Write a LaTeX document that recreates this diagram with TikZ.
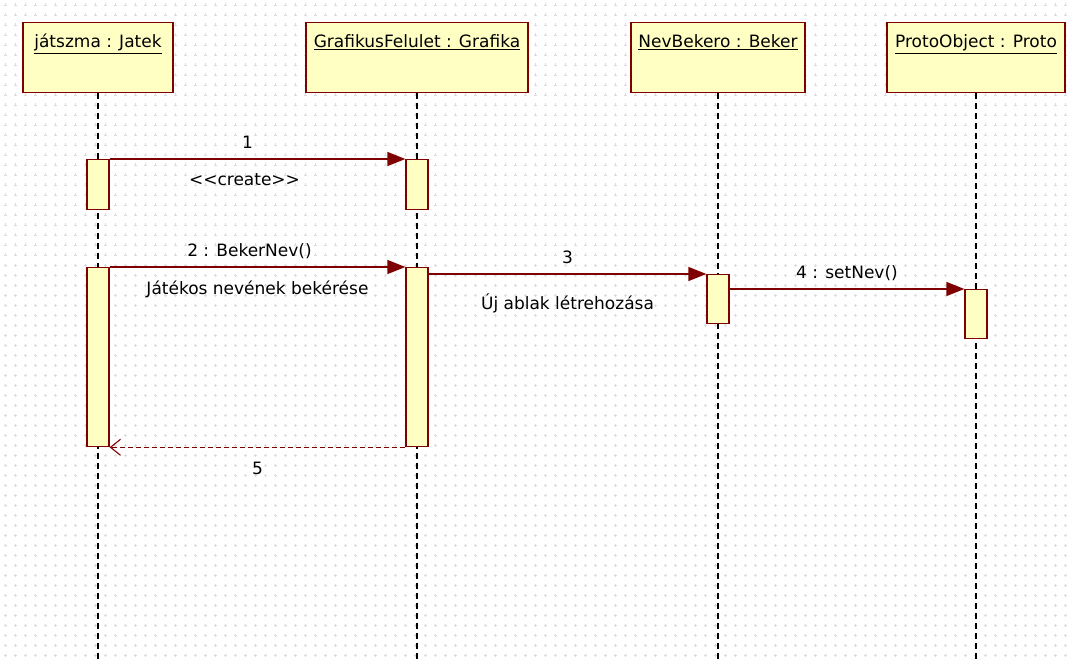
\documentclass[tikz,border=0pt]{standalone}
\usepackage{fontspec}
\newfontfamily\umlfont{DejaVu Sans}
\usetikzlibrary{arrows.meta}
\definecolor{umlfill}{HTML}{FFFFC4}
\definecolor{umlline}{HTML}{7F0000}

\begin{document}
\begin{tikzpicture}[x=1pt,y=-1pt,font=\umlfont\fontsize{17}{20}\selectfont,
  gridmark/.style={gray!28,line width=.6pt,dash pattern=on 3pt off 7pt,dash phase=6.5pt},
  obj/.style={draw=umlline,fill=umlfill,line width=1.3pt,minimum height=70pt,
    inner sep=0pt,anchor=north},
  act/.style={draw=umlline,fill=umlfill,line width=1.3pt,minimum width=22pt,
    inner sep=0pt,anchor=north},
  life/.style={line width=1.3pt,dash pattern=on 6pt off 4pt},
  msg/.style={draw=umlline,line width=1.3pt,-{Triangle[length=18pt,width=14pt]}},
  ret/.style={draw=umlline,line width=1.1pt,dash pattern=on 5pt off 3pt,
    -{Straight Barb[length=10pt,width=16pt,line width=1.1pt]}},
  over/.style={anchor=base,yshift=10pt},
  under/.style={anchor=base,yshift=-27pt}]
\fill[white] (0,0) rectangle (1070,660);
\useasboundingbox (0,0) rectangle (1070,660);
\foreach \gy in {5,15,...,655}
  \draw[gridmark] (0,\gy) -- (1070,\gy);
\foreach \gx in {5,15,...,1065}
  \draw[gridmark] (\gx,0) -- (\gx,660);
\coordinate (bot) at (0,660);
% objektumok
\node[obj,minimum width=150pt,
  label={[name=jatt,anchor=base,yshift=-26pt]north:\underline{játszma : Jatek}}]
  (jat) at (98,22) {};
\node[obj,minimum width=222pt,
  label={[name=grat,anchor=base,yshift=-26pt]north:\underline{GrafikusFelulet : Grafika}}]
  (gra) at (417,22) {};
\node[obj,minimum width=174pt,
  label={[name=nevt,anchor=base,yshift=-26pt]north:\underline{NevBekero : Beker}}]
  (nev) at (718,22) {};
\node[obj,minimum width=178pt,
  label={[name=prot,anchor=base,yshift=-26pt]north:\underline{ProtoObject : Proto}}]
  (pro) at (976,22) {};
\foreach \o in {jat,gra,nev,pro}
  \draw[life] (\o.south) -- (\o.south |- bot);
% aktivacios savok
\node[act,minimum height=50pt] (jat1) at (98,159) {};
\node[act,minimum height=50pt] (gra1) at (417,159) {};
\node[act,minimum height=179pt] (jat2) at (98,267) {};
\node[act,minimum height=179pt] (gra2) at (417,267) {};
\node[act,minimum height=49pt] (nev1) at (718,274) {};
\node[act,minimum height=49pt] (pro1) at (976,289) {};
% uzenetek
\draw[msg] (jat1.north east) --
  node[over,xshift=-10pt] (m1) {1}
  node[under,xshift=-13pt] (m1b) {<<create>>} (gra1.north west);
\draw[msg] (jat2.north east) --
  node[over,xshift=-8pt] (m2) {2 : BekerNev()}
  node[under] (m2b) {Játékos nevének bekérése} (gra2.north west);
\draw[msg] (gra2.east |- nev1.north) --
  node[over] (m3) {3}
  node[under,yshift=-8pt] (m3b) {Új ablak létrehozása} (nev1.north west);
\draw[msg] (nev1.east |- pro1.north) --
  node[over] (m4) {4 : setNev()} (pro1.north west);
\draw[ret] (gra2.south west) --
  node[under] (m5) {5} (jat2.south east);
\end{tikzpicture}
\end{document}
